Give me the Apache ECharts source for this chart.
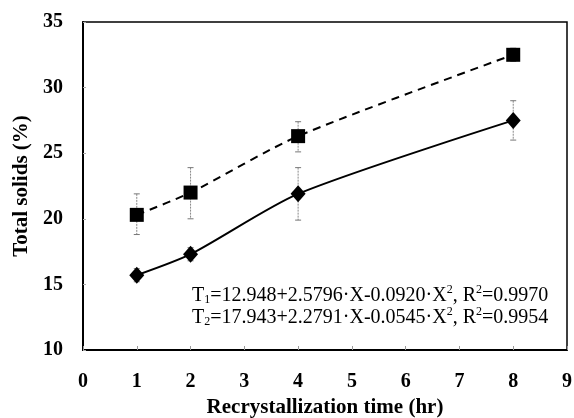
<!DOCTYPE html>
<html>
<head>
<meta charset="utf-8">
<script src="https://cdn.jsdelivr.net/npm/echarts@6/dist/echarts.min.js"></script>
<style>
  html, body { margin: 0; padding: 0; background: #fff; }
  #main { width: 574px; height: 418px; }
</style>
</head>
<body>
<div id="main"></div>
<script>
// 再结晶时间 (hr)
var times = [1, 2, 4, 8];
// 菱形系列 T1 与方形系列 T2 的总固形物 (%)
var t1Values = [15.7, 17.3, 21.9, 27.5];
var t2Values = [20.3, 22.0, 26.3, 32.5];
// 误差棒上下限
var t1Low = [15.2, 16.8, 19.9, 26.0];
var t1High = [16.2, 17.8, 23.9, 29.0];
var t2Low = [18.8, 20.0, 25.1, 32.0];
var t2High = [21.9, 23.9, 27.4, 33.0];
// 坐标轴刻度
var xTicks = [0, 1, 2, 3, 4, 5, 6, 7, 8, 9];
var yTicks = [10, 15, 20, 25, 30, 35];

var serif = '"Liberation Serif", "DejaVu Serif", serif';

function pairs(xs, ys) {
    var out = [];
    for (var i = 0; i < xs.length; i++) out.push([xs[i], ys[i]]);
    return out;
}
function bars(xs, lo, hi) {
    var out = [];
    for (var i = 0; i < xs.length; i++) out.push([xs[i], lo[i], hi[i]]);
    return out;
}
//误差棒绘制
function errorBar(params, api) {
    var top = api.coord([api.value(0), api.value(2)]);
    var bot = api.coord([api.value(0), api.value(1)]);
    var w = 3;
    var st = { stroke: '#777', lineWidth: 1 };
    return {
        type: 'group',
        children: [
            { type: 'line', shape: { x1: top[0], y1: top[1], x2: bot[0], y2: bot[1] },
              style: { stroke: '#888', lineWidth: 1, lineDash: [2, 1] } },
            { type: 'line', shape: { x1: top[0] - w, y1: top[1], x2: top[0] + w, y2: top[1] }, style: st },
            { type: 'line', shape: { x1: bot[0] - w, y1: bot[1], x2: bot[0] + w, y2: bot[1] }, style: st }
        ]
    };
}

var richStyle = {
    n: { fontFamily: serif, fontSize: 20, color: '#000', lineHeight: 22, verticalAlign: 'bottom' },
    sub: { fontFamily: serif, fontSize: 12, color: '#000', lineHeight: 22, verticalAlign: 'bottom' },
    sup: { fontFamily: serif, fontSize: 12, color: '#000', lineHeight: 22, verticalAlign: 'top' }
};

var myChart = echarts.init(document.getElementById('main'));
var option = {
    animation: false,
    backgroundColor: '#fff',
    grid: {
        left: 83, right: 7, top: 22, bottom: 68,
        outerBoundsMode: 'none',
        containLabel: false,
        show: true, borderColor: '#000', borderWidth: 1.5, backgroundColor: 'transparent'
    },
    xAxis: {
        type: 'value',
        min: 0, max: 9, interval: 1,
        name: 'Recrystallization time (hr)',
        nameLocation: 'middle',
        nameGap: 44,
        nameTextStyle: { fontFamily: serif, fontSize: 21, fontWeight: 'bold', color: '#000' },
        axisLine: { show: true, onZero: false, lineStyle: { color: '#000', width: 2 } },
        axisTick: { show: true, inside: true, length: 4, lineStyle: { color: '#999' } },
        splitLine: { show: false },
        axisLabel: {
            margin: 22, fontFamily: serif, fontSize: 20, fontWeight: 'bold', color: '#000',
            formatter: function (v) { return xTicks.indexOf(v) >= 0 ? String(v) : ''; }
        }
    },
    yAxis: {
        type: 'value',
        min: 10, max: 35, interval: 5,
        name: 'Total solids (%)',
        nameLocation: 'middle',
        nameGap: 51,
        nameRotate: 90,
        nameTextStyle: { fontFamily: serif, fontSize: 21, fontWeight: 'bold', color: '#000' },
        axisLine: { show: true, lineStyle: { color: '#000', width: 2 } },
        axisTick: { show: true, inside: true, length: 3, lineStyle: { color: '#aaa' } },
        splitLine: { show: false },
        axisLabel: {
            margin: 20, fontFamily: serif, fontSize: 20, fontWeight: 'bold', color: '#000',
            formatter: function (v) { return yTicks.indexOf(v) >= 0 ? String(v) : ''; }
        }
    },
    series: [
        {
            type: 'custom',
            renderItem: errorBar,
            data: bars(times, t2Low, t2High),
            z: 1
        },
        {
            type: 'custom',
            renderItem: errorBar,
            data: bars(times, t1Low, t1High),
            z: 1
        },
        {
            name: 'T2',
            type: 'line',
            smooth: 0.25,
            data: pairs(times, t2Values),
            symbol: 'rect',
            symbolSize: 14,
            itemStyle: { color: '#000' },
            lineStyle: { color: '#000', width: 2, type: [8, 6] },
            z: 3
        },
        {
            name: 'T1',
            type: 'line',
            smooth: 0.25,
            data: pairs(times, t1Values),
            symbol: 'diamond',
            symbolSize: [15, 17],
            itemStyle: { color: '#000' },
            lineStyle: { color: '#000', width: 2 },
            z: 3
        }
    ],
    graphic: [
        {
            type: 'text',
            left: 192, top: 284,
            style: {
                text: '{n|T}{sub|1}{n|=12.948+2.5796·X-0.0920·X}{sup|2}{n|, R}{sup|2}{n|=0.9970}',
                rich: richStyle
            }
        },
        {
            type: 'text',
            left: 192, top: 306,
            style: {
                text: '{n|T}{sub|2}{n|=17.943+2.2791·X-0.0545·X}{sup|2}{n|, R}{sup|2}{n|=0.9954}',
                rich: richStyle
            }
        }
    ]
};
myChart.setOption(option);
</script>
</body>
</html>
